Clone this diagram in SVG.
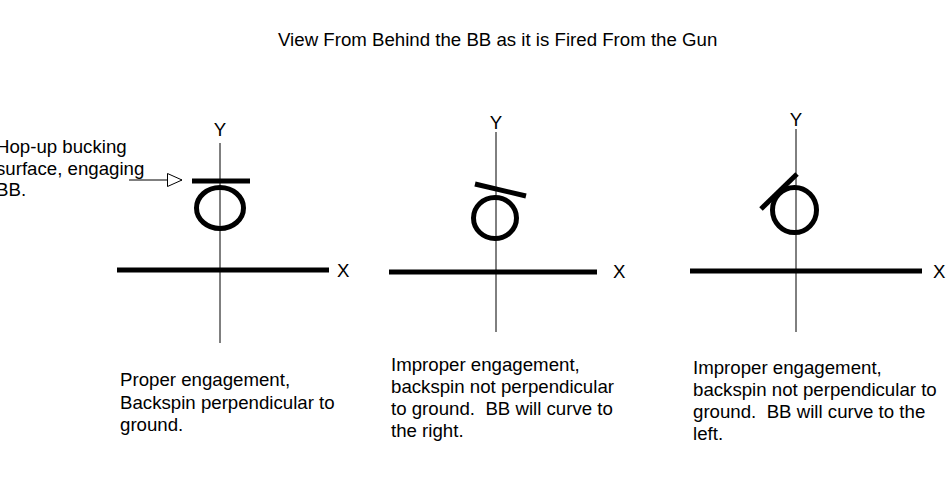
<svg xmlns="http://www.w3.org/2000/svg" width="948" height="498" viewBox="0 0 948 498">
  <style>
    text { font-family: "Liberation Sans", Arial, sans-serif; font-size: 18.67px; fill: #000; white-space: pre; }
    .axis-y { stroke: #000; stroke-width: 1; }
    .axis-x { stroke: #000; stroke-width: 5; }
    .bb { fill: none; stroke: #000; stroke-width: 5; }
    .bar { stroke: #000; stroke-width: 5; }
    .lbl { text-anchor: middle; }
  </style>
  <defs>
    <marker id="openTri" markerUnits="userSpaceOnUse" markerWidth="16" markerHeight="16" refX="15" refY="7" orient="auto">
      <path d="M0.5,0.5 L15,7 L0.5,13.5 Z" fill="#fff" stroke="#000" stroke-width="1"/>
    </marker>
  </defs>
  <rect width="948" height="498" fill="#fff"/>

  <g id="title">
    <text x="278" y="46">View From Behind the BB as it is Fired From the Gun</text>
  </g>

  <g id="hopup-label">
    <text x="-4" y="153">Hop-up bucking</text>
    <text x="-4" y="175">surface, engaging</text>
    <text x="-4" y="196">BB.</text>
  </g>

  <g id="panel-proper">
    <line class="axis-y" x1="220" y1="143" x2="220" y2="343"/>
    <line class="axis-x" x1="117" y1="270" x2="329" y2="270"/>
    <text class="lbl" x="220" y="136">Y</text>
    <text x="337" y="277">X</text>
    <ellipse class="bb" cx="220" cy="208" rx="23.5" ry="20.5"/>
    <line class="bar" x1="192" y1="181" x2="250" y2="181"/>
    <text x="120" y="386">Proper engagement,</text>
    <text x="120" y="409">Backspin perpendicular to</text>
    <text x="120" y="431">ground.</text>
  </g>

  <g id="panel-right">
    <line class="axis-y" x1="496" y1="132" x2="496" y2="332"/>
    <line class="axis-x" x1="389" y1="272" x2="597" y2="272"/>
    <text class="lbl" x="496" y="129">Y</text>
    <text x="613" y="278">X</text>
    <ellipse class="bb" cx="495" cy="218" rx="21.5" ry="20.5"/>
    <line class="bar" x1="475" y1="184" x2="526" y2="196"/>
    <text x="391" y="371">Improper engagement,</text>
    <text x="391" y="393">backspin not perpendicular</text>
    <text x="391" y="415" xml:space="preserve">to ground.  BB will curve to</text>
    <text x="391" y="437">the right.</text>
  </g>

  <g id="panel-left">
    <line class="axis-y" x1="796" y1="129" x2="796" y2="332"/>
    <line class="axis-x" x1="690" y1="271" x2="922" y2="271"/>
    <text class="lbl" x="796" y="126">Y</text>
    <text x="933" y="278">X</text>
    <ellipse class="bb" cx="794.5" cy="210" rx="22" ry="22.5"/>
    <line class="bar" x1="761" y1="209" x2="797" y2="174"/>
    <text x="693" y="374">Improper engagement,</text>
    <text x="693" y="396">backspin not perpendicular to</text>
    <text x="693" y="418" xml:space="preserve">ground.  BB will curve to the</text>
    <text x="693" y="440">left.</text>
  </g>

  <g id="connectors">
    <line x1="129" y1="180" x2="182" y2="180" stroke="#000" stroke-width="1" marker-end="url(#openTri)"/>
  </g>
</svg>
